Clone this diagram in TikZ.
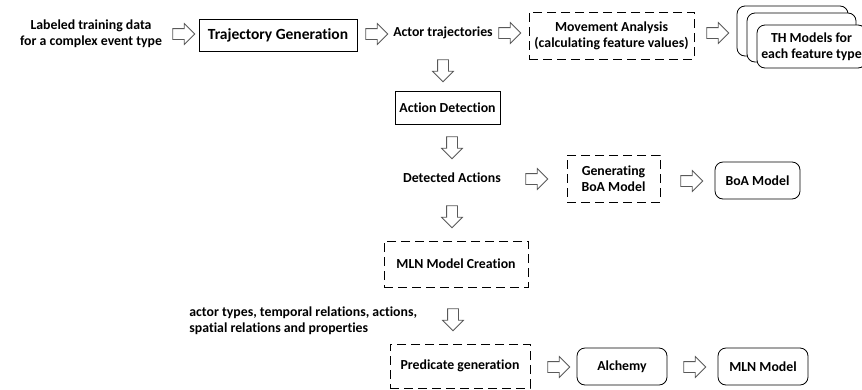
\documentclass[tikz,border=0pt]{standalone}
\usepackage{fontspec}
\setmainfont[Ligatures=NoCommon]{Carlito}
\usetikzlibrary{shapes.arrows}

\begin{document}
\begin{tikzpicture}[x=1pt, y=-1pt, line width=0.8pt,
  font=\bfseries\fontsize{13.8}{16}\selectfont,
  label/.style = {align=center, inner sep=0pt},
  box/.style = {draw, align=center, inner sep=0pt},
  dbox/.style = {box, dash pattern=on 9pt off 5pt},
  rbox/.style = {box, rounded corners=8pt, fill=white},
  harrow/.style = {single arrow, draw=black!65, inner sep=5pt, minimum height=22pt,
    single arrow head extend=5pt, single arrow tip angle=90},
  rarrow/.style = {harrow},
  darrow/.style = {harrow, shape border rotate=270}]
\useasboundingbox (0,0) rectangle (862,389);

% top row
\node[label] (data) at (91,34) {Labeled training data\\for a complex event type};
\node[box, minimum width=158pt, minimum height=32pt, font=\bfseries\fontsize{15.5}{18}\selectfont] (traj) at (278,35) {Trajectory Generation};
\node[label] (trajs) at (443,33) {Actor trajectories};
\node[dbox, minimum width=165pt, minimum height=47pt] (move) at (611.5,35.5) {Movement Analysis\\(calculating feature values)};
\node[rbox, minimum width=111pt, minimum height=50pt] (th3) at (792.5,31) {};
\node[rbox, minimum width=109pt, minimum height=49pt] (th2) at (801.5,37.5) {};
\node[rbox, minimum width=109pt, minimum height=43pt] (th1) at (811.5,46.5) {TH Models for\\each feature type};
\node[rarrow] (a1) at (181,34) {};
\node[rarrow] (a2) at (374,34) {};
\node[rarrow] (a3) at (507,33) {};
\node[rarrow] (a4) at (715,33) {};

% actions
\node[darrow] (a5) at (443,68) {};
\node[box, minimum width=105pt, minimum height=33pt] (act) at (447.5,107.5) {Action Detection};
\node[darrow] (a6) at (452,145) {};
\node[label] (detected) at (452,178) {Detected Actions};
\node[rarrow] (a7) at (534,179) {};
\node[dbox, minimum width=93pt, minimum height=47pt] (genboa) at (613.5,178.5) {Generating\\BoA Model};
\node[rarrow] (a8) at (689,181) {};
\node[rbox, minimum width=85pt, minimum height=37pt] (boa) at (757.5,180.5) {BoA Model};

% MLN
\node[darrow] (a9) at (452,214) {};
\node[dbox, minimum width=144pt, minimum height=46pt] (mlnc) at (456,264) {MLN Model Creation};
\node[label, anchor=west, align=left] (preds) at (189,321) {actor types, temporal relations, actions,\\spatial relations and properties};
\node[darrow] (a10) at (453,317) {};
\node[dbox, minimum width=140pt, minimum height=44pt] (pred) at (460,366) {Predicate generation};
\node[rarrow] (a11) at (556,367) {};
\node[rbox, minimum width=90pt, minimum height=37pt] (alch) at (622,366.5) {Alchemy};
\node[rarrow] (a12) at (692,367) {};
\node[rbox, minimum width=90pt, minimum height=37pt] (mlnm) at (763,366.5) {MLN Model};
\end{tikzpicture}
\end{document}
